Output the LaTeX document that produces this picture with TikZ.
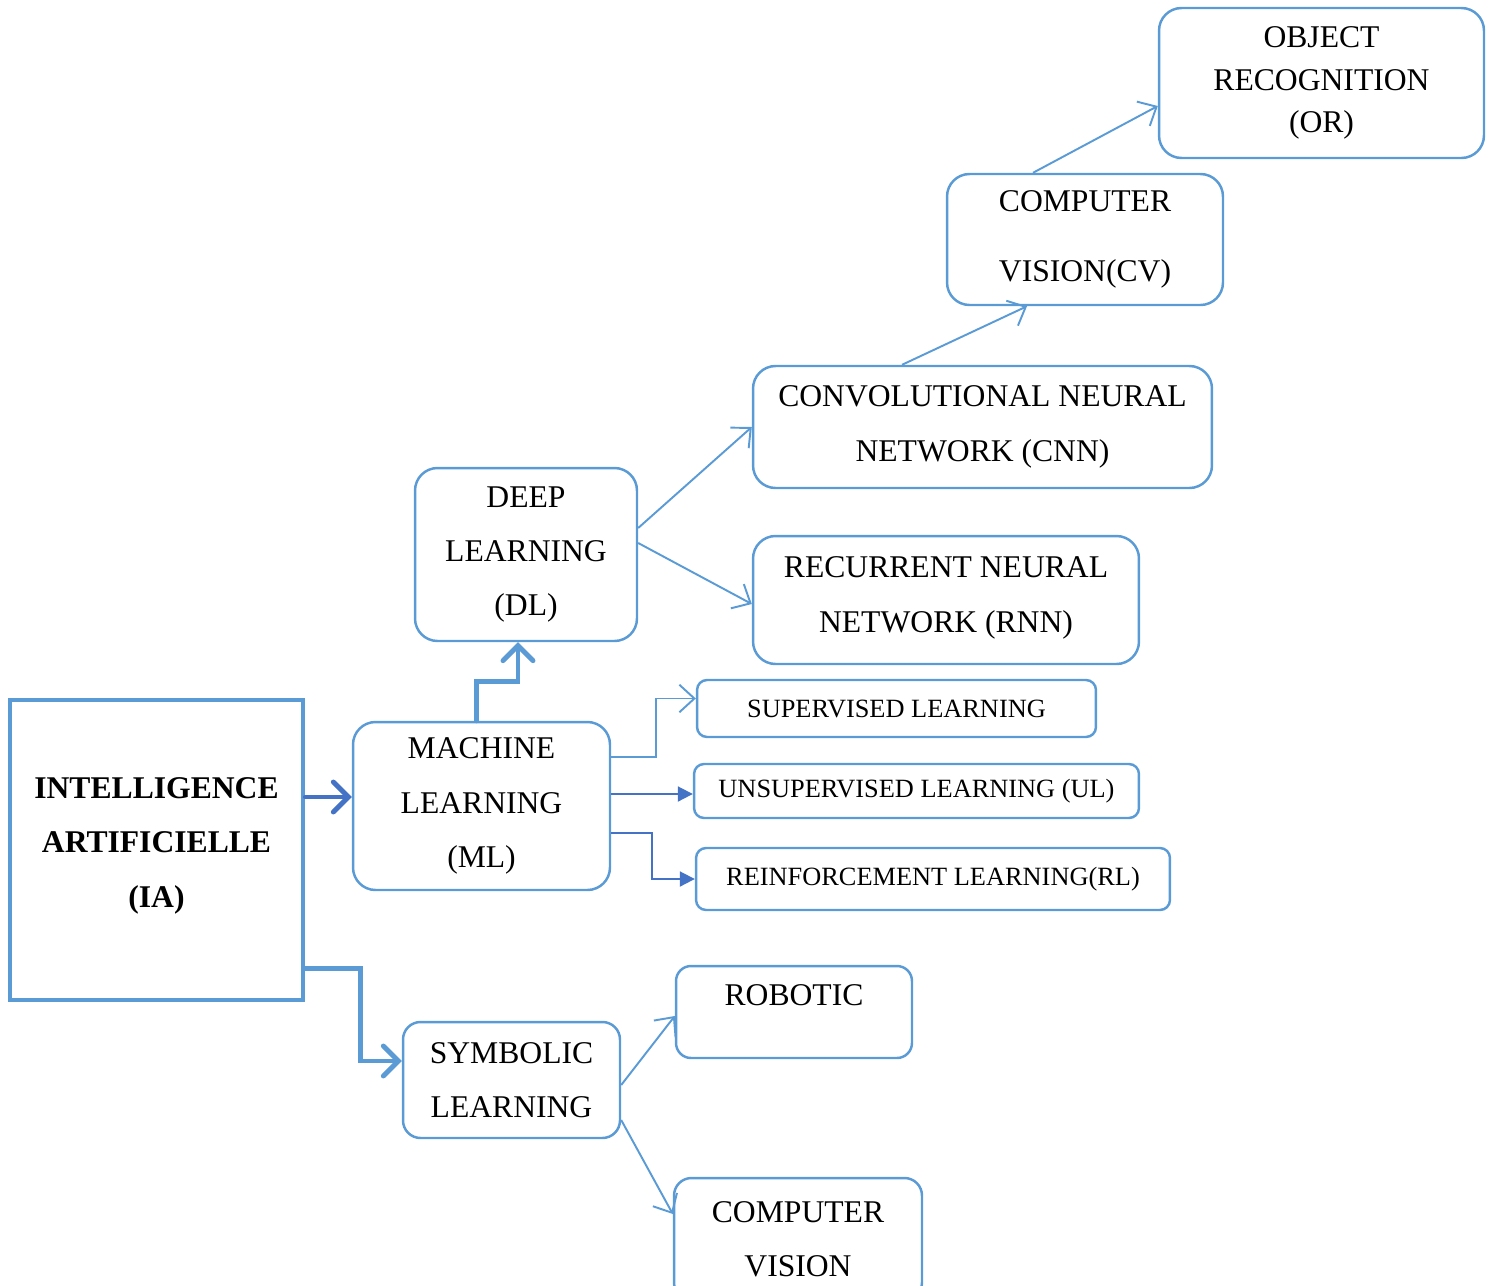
\documentclass[tikz,border=0pt]{standalone}
\usepackage{fontspec}
\setmainfont{Liberation Serif}
\usetikzlibrary{arrows.meta}

\definecolor{boxblue}{RGB}{91,155,213}
\definecolor{darkblue}{RGB}{68,114,196}

\tikzset{
    bluebox/.style={draw=boxblue, line width=1.4pt, rounded corners=0.45cm,
        align=center, inner sep=0pt, font=\fontsize{18}{31}\selectfont},
    smallbox/.style={bluebox, rounded corners=0.2cm, font=\fontsize{15}{18}\selectfont},
    linkarrow/.style={draw=boxblue, line width=1.1pt,
        -{Straight Barb[length=0.3cm, width=0.55cm]}},
    filledarrow/.style={draw=darkblue, line width=1.1pt,
        -{Triangle[length=0.3cm, width=0.3cm]}},
    thickarrow/.style={draw=boxblue, line width=2.8pt, line cap=round,
        -{Straight Barb[length=0.3cm, width=0.6cm, line cap=round]}},
}

\begin{document}
\begin{tikzpicture}[x=0.02cm, y=-0.02cm]
    \useasboundingbox (0,0) rectangle (1491,1285);

    % --- Intelligence artificielle ---
    \node[draw=boxblue, line width=2.8pt, minimum width=5.86cm, minimum height=6cm,
          align=center, inner sep=0pt, font=\bfseries\fontsize{18}{31}\selectfont]
          (ia) at (156.5,850) {INTELLIGENCE\\ARTIFICIELLE\\(IA)\\[-22pt]};

    % --- Machine learning ---
    \node[bluebox, minimum width=5.14cm, minimum height=3.36cm]
          (ml) at (481.5,806) {MACHINE\\LEARNING\\(ML)};
    \node[smallbox, minimum width=7.98cm, minimum height=1.14cm]
          (sup) at (896.5,708.5) {SUPERVISED LEARNING};
    \node[smallbox, minimum width=8.9cm, minimum height=1.08cm]
          (unsup) at (916.5,791) {UNSUPERVISED LEARNING (UL)};
    \node[smallbox, minimum width=9.48cm, minimum height=1.24cm]
          (reinf) at (933,879) {REINFORCEMENT LEARNING(RL)};

    % --- Deep learning ---
    \node[bluebox, minimum width=4.44cm, minimum height=3.46cm]
          (dl) at (526,554.5) {DEEP\\LEARNING\\(DL)};
    \node[bluebox, minimum width=9.18cm, minimum height=2.44cm]
          (cnn) at (982.5,427) {CONVOLUTIONAL NEURAL\\NETWORK (CNN)};
    \node[bluebox, minimum width=7.72cm, minimum height=2.56cm]
          (rnn) at (946,600) {RECURRENT NEURAL\\NETWORK (RNN)\\[-25pt]};
    \node[bluebox, minimum width=5.52cm, minimum height=2.62cm,
          font=\fontsize{18}{40}\selectfont]
          (cv) at (1085,239.5) {COMPUTER\\VISION(CV)};
    \node[bluebox, minimum width=6.5cm, minimum height=3cm,
          font=\fontsize{18}{24}\selectfont]
          (objrec) at (1321.5,83) {OBJECT\\RECOGNITION\\(OR)};

    % --- Symbolic learning ---
    \node[bluebox, rounded corners=0.35cm, minimum width=4.34cm, minimum height=2.32cm]
          (sym) at (511.5,1080) {SYMBOLIC\\LEARNING};
    \node[bluebox, rounded corners=0.3cm, minimum width=4.72cm, minimum height=1.84cm,
          text height=12pt, text depth=19pt]
          (robot) at (794,1012) {ROBOTIC};
    \node[bluebox, rounded corners=0.35cm, minimum width=4.96cm, minimum height=2.44cm]
          (cvsym) at (798,1239) {COMPUTER\\VISION};

    % liaisons
    \draw[thickarrow, draw=darkblue] ([yshift=0.18cm]ml.west -| ia.east) -- ([yshift=0.18cm]ml.west);
    \draw[thickarrow] ([yshift=0.68cm]ia.south east) -- ++(55,0) |- ([yshift=0.38cm]sym.west);
    \draw[thickarrow] ([xshift=-0.1cm]ml.north) -- ++(0,-39) -| ([xshift=-0.16cm]dl.south);

    \draw[linkarrow] ([yshift=0.98cm]ml.east) -- ++(45,0) |- ([yshift=0.2cm]sup.west);
    \draw[filledarrow] ([yshift=0.24cm]ml.east) -- ([yshift=-0.06cm]unsup.west);
    \draw[filledarrow] ([yshift=-0.54cm]ml.east) -- ++(41,0) |- (reinf.west);

    \draw[linkarrow] ([yshift=0.53cm]dl.east) -- (cnn.west);
    \draw[linkarrow] ([yshift=0.23cm]dl.east) -- ([yshift=-0.08cm]rnn.west);
    \draw[linkarrow] ([xshift=-1.61cm]cnn.north) -- ([xshift=-1.16cm]cv.south);
    \draw[linkarrow] ([xshift=-1.04cm]cv.north) -- ([yshift=-0.46cm]objrec.west);

    \draw[linkarrow] ([yshift=-0.1cm]sym.east) -- ([yshift=-0.08cm]robot.west);
    \draw[linkarrow] ([yshift=-0.8cm]sym.east) -- ([yshift=0.5cm]cvsym.west);
\end{tikzpicture}
\end{document}
